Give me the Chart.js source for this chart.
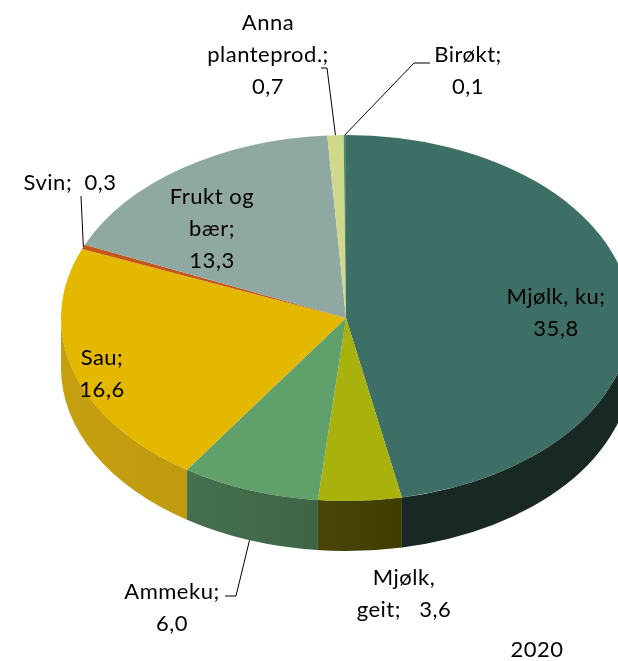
<!DOCTYPE html>
<html>
<head>
<meta charset="utf-8">
<script src="https://cdn.jsdelivr.net/npm/chart.js@4"></script>
<style>
  body { margin: 0; background: #fff; overflow: hidden; }
  canvas { display: block; }
</style>
</head>
<body>
<canvas id="pieChart" width="618" height="661"></canvas>
<script>
// production shares per branch
const categories = ['Mjølk, ku', 'Mjølk, geit', 'Ammeku', 'Sau', 'Svin', 'Frukt og bær', 'Anna planteprod.', 'Birøkt'];
const values = [35.8, 3.6, 6.0, 16.6, 0.3, 13.3, 0.7, 0.1];
const yearLabel = '2020';

const topColors = ['#3e6f66', '#a9b10c', '#5fa06b', '#e5b800', '#c4561a', '#8fa8a1', '#d0d98b', '#4f8a6f'];
const sideColors = ['#1b2e2b', '#4a4600', '#3d6a46', '#c29900', '#8a3a10', '#5f7570', '#9aa260', '#2d5040'];

// ellipse the flat pie gets squashed onto
const CX = 346, CY = 318, RX = 285, RY = 183, DEPTH = 50;

// where each label sits, {v} gets the value
const labelLayout = [
    { x: 556, y: 297, lines: ['Mjølk, ku;', '{v}'] },
    { x: 404, y: 578, lines: ['Mjølk,', 'geit;   {v}'] },
    { x: 172, y: 592, lines: ['Ammeku;', '{v}'], leader: { edge: 'bottom', pts: [[236, 596], [225, 596]] } },
    { x: 102, y: 358, lines: ['Sau;', '{v}'] },
    { x: 70, y: 183, lines: ['Svin;  {v}'], leader: { edge: 'top', pts: [[81, 196]] } },
    { x: 212, y: 197, lines: ['Frukt og', 'bær;', '{v}'] },
    { x: 268, y: 23, lines: ['Anna', 'planteprod.;', '{v}'], leader: { edge: 'top', pts: [[327, 68], [321, 68]] } },
    { x: 468, y: 55, lines: ['Birøkt;', '{v}'], leader: { edge: 'top', pts: [[414, 63], [430, 63]] } }
];

function fmt(v) {
    return v.toFixed(1).replace('.', ',');
}

const pie3d = {
    id: 'pie3d',
    beforeDatasetsDraw(chart) {
        const ctx = chart.ctx;
        const arcs = chart.getDatasetMeta(0).data;

        // front walls, only the part facing the viewer (0..PI)
        arcs.forEach((arc, i) => {
            const a = Math.max(arc.startAngle, 0);
            const b = Math.min(arc.endAngle, Math.PI);
            if (b <= a) return;
            ctx.beginPath();
            ctx.ellipse(CX, CY, RX, RY, 0, a, b);
            ctx.ellipse(CX, CY + DEPTH, RX, RY, 0, b, a, true);
            ctx.closePath();
            ctx.fillStyle = sideColors[i];
            ctx.fill();
        });

        // light from the left on the wall
        ctx.save();
        ctx.beginPath();
        ctx.ellipse(CX, CY, RX, RY, 0, 0, Math.PI);
        ctx.ellipse(CX, CY + DEPTH, RX, RY, 0, Math.PI, 0, true);
        ctx.closePath();
        const g = ctx.createLinearGradient(CX - RX, 0, CX + 60, 0);
        g.addColorStop(0, 'rgba(255,255,255,0.06)');
        g.addColorStop(1, 'rgba(0,0,0,0.14)');
        ctx.fillStyle = g;
        ctx.fill();
        ctx.restore();

        // squash the round pie into the top ellipse
        const first = arcs[0];
        const r = first.outerRadius;
        ctx.save();
        ctx.translate(CX, CY);
        ctx.scale(RX / r, RY / r);
        ctx.translate(-first.x, -first.y);
    },
    afterDatasetsDraw(chart) {
        const ctx = chart.ctx;
        ctx.restore();
        const arcs = chart.getDatasetMeta(0).data;

        ctx.save();
        ctx.strokeStyle = '#000';
        ctx.lineWidth = 1;
        ctx.fillStyle = '#000';
        ctx.font = '22px Lato';
        ctx.letterSpacing = '0.5px';
        ctx.textAlign = 'center';
        ctx.textBaseline = 'middle';

        labelLayout.forEach((lab, i) => {
            if (lab.leader) {
                const arc = arcs[i];
                const mid = (arc.startAngle + arc.endAngle) / 2;
                const px = CX + RX * Math.cos(mid);
                let py = CY + RY * Math.sin(mid);
                if (lab.leader.edge === 'bottom') py += DEPTH;
                ctx.beginPath();
                ctx.moveTo(px, py);
                lab.leader.pts.forEach(p => ctx.lineTo(p[0], p[1]));
                ctx.stroke();
            }
            lab.lines.forEach((line, k) => {
                ctx.fillText(line.replace('{v}', fmt(values[i])), lab.x, lab.y + k * 32);
            });
        });

        ctx.fillText(yearLabel, 537, 650);
        ctx.restore();
    }
};

const ctx = document.getElementById('pieChart').getContext('2d');
new Chart(ctx, {
    type: 'pie',
    data: {
        labels: categories,
        datasets: [{
            data: values,
            backgroundColor: topColors,
            borderWidth: 0
        }]
    },
    options: {
        responsive: false,
        animation: false,
        rotation: 0,
        plugins: {
            legend: { display: false },
            tooltip: { enabled: false }
        }
    },
    plugins: [pie3d]
});
</script>
</body>
</html>
